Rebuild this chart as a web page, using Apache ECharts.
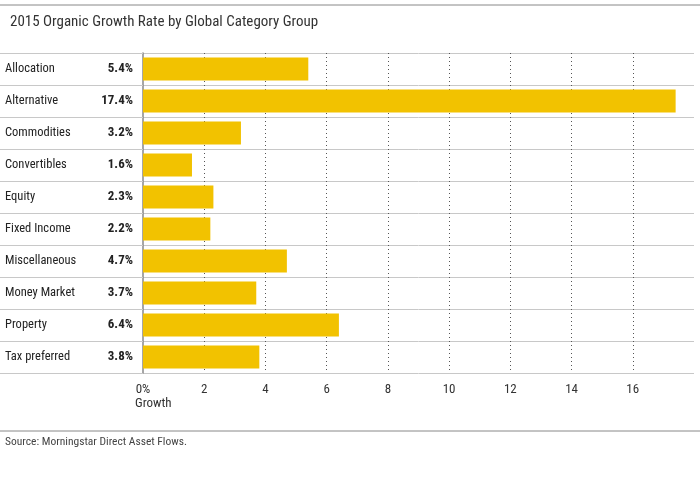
<!DOCTYPE html>
<html><head><meta charset="utf-8">
<script src="https://cdn.jsdelivr.net/npm/echarts@6/dist/echarts.min.js"></script>
<style>html,body{margin:0;padding:0;background:#fff}#c{width:700px;height:489px}</style>
</head><body><div id="c"></div>
<script>
const categories = ["Allocation","Alternative","Commodities","Convertibles","Equity","Fixed Income","Miscellaneous","Money Market","Property","Tax preferred"];
const growth = [5.4,17.4,3.2,1.6,2.3,2.2,4.7,3.7,6.4,3.8];
const xTicks = [0,2,4,6,8,10,12,14,16];
const FONT = "'Liberation Sans Narrow','Roboto Condensed','Liberation Sans',sans-serif";
const chart = echarts.init(document.getElementById('c'));
chart.setOption({
  animation:false,
  title:{text:"2015 Organic Growth Rate by Global Category Group",left:5,top:10,
    textStyle:{fontFamily:FONT,fontSize:15,fontWeight:'normal',color:'#333'}},
  graphic:[
    {type:'line',shape:{x1:0,y1:5,x2:700,y2:5},style:{stroke:'#888',lineWidth:1}},
    {type:'line',shape:{x1:0,y1:431,x2:700,y2:431},style:{stroke:'#888',lineWidth:1}},
    {type:'text',left:5,top:436,style:{text:"Source: Morningstar Direct Asset Flows.",font:"11.5px "+FONT,fill:'#444'}}
  ],
  grid:{left:143,right:6,top:53,bottom:116},
  xAxis:{type:'value',min:0,max:18,interval:2,
    axisLine:{show:false},axisTick:{show:false},
    axisLabel:{fontFamily:FONT,fontSize:13,color:'#333',margin:10,
      formatter:v=>v===0?'0%':(v===18?'':String(v))},
    splitLine:{show:true,showMinLine:false,showMaxLine:false,lineStyle:{type:[1,3],color:'#555',width:1}},
    name:'Growth',nameLocation:'start',nameGap:8,
    nameTextStyle:{fontFamily:FONT,fontSize:13,color:'#333',align:'left',verticalAlign:'top',padding:[24,0,0,0]}
  },
  yAxis:{type:'category',data:categories,inverse:true,
    axisLine:{show:true,lineStyle:{color:'#888',width:1.5}},
    axisTick:{show:true,length:143,lineStyle:{color:'#c8c8c8',width:1}},
    splitLine:{show:true,lineStyle:{color:'#c8c8c8',width:1}},
    axisLabel:{margin:10,
      formatter:(v,i)=>'{a|'+v+'}{b|'+growth[i].toFixed(1)+'%}',
      rich:{a:{width:95,align:'left',fontFamily:FONT,fontSize:12.5,color:'#222'},
            b:{width:33,align:'right',fontFamily:FONT,fontSize:13,fontWeight:'bold',color:'#222'}}}
  },
  series:[{type:'bar',data:growth,barWidth:23,itemStyle:{color:'#F2C200'}}]
});
</script></body></html>
